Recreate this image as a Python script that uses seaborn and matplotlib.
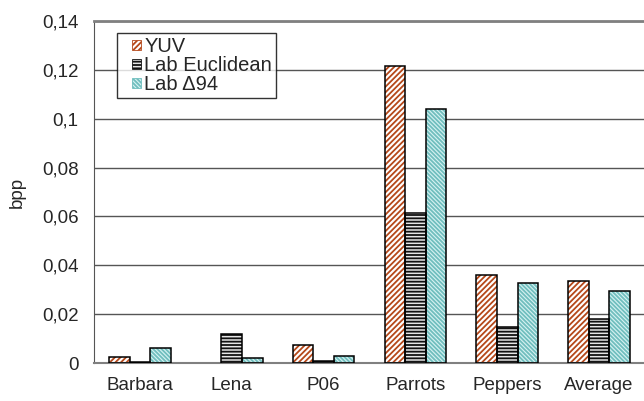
import matplotlib
matplotlib.use("Agg")
import matplotlib.pyplot as plt
import seaborn as sns
import numpy as np
import pandas as pd
from matplotlib.patches import Rectangle, Patch
from matplotlib.legend_handler import HandlerPatch

sns.set_style("white")
plt.rcParams['font.family'] = ['Liberation Sans', 'DejaVu Sans']
plt.rcParams['hatch.linewidth'] = 1.3

# data
images = ["Barbara", "Lena", "P06", "Parrots", "Peppers", "Average"]
methods = ["YUV", "Lab Euclidean", "Lab \u039494"]
yuv = [0.0025, 0.0, 0.0073, 0.1216, 0.0359, 0.0336]
lab_euclid = [0.0004, 0.0118, 0.0010, 0.0614, 0.0148, 0.0180]
lab_d94 = [0.0060, 0.0022, 0.0028, 0.1040, 0.0326, 0.0295]
yticks = [0, 0.02, 0.04, 0.06, 0.08, 0.1, 0.12, 0.14]
ytick_labels = ["0", "0,02", "0,04", "0,06", "0,08", "0,1", "0,12", "0,14"]

# fill, hatch, hatch colour per method
styles = {
    "YUV": ("white", "//////", "#b5481a"),
    "Lab Euclidean": ("#e6e6e6", "-----", "#111111"),
    "Lab \u039494": ("#d6f2f2", "\\\\\\\\\\\\\\\\", "#70bebe"),
}

df = pd.DataFrame({
    "image": images * 3,
    "method": np.repeat(methods, len(images)),
    "bpp": yuv + lab_euclid + lab_d94,
})

fig = plt.figure(figsize=(6.44, 4.01), dpi=100)
ax = fig.add_axes([94/644, 38/401, 551/644, 342/401])

sns.barplot(data=df, x="image", y="bpp", hue="method", hue_order=methods,
            order=images, width=0.67, errorbar=None, ax=ax, legend=False)

n = len(images)
for i, p in enumerate(list(ax.patches)[:3*n]):
    fc, h, hc = styles[methods[i // n]]
    p.set_facecolor(fc)
    p.set_hatch(h)
    p.set_edgecolor(hc)
    p.set_linewidth(0)
    if p.get_height() > 0:
        ax.add_patch(Rectangle(p.get_xy(), p.get_width(), p.get_height(),
                               fill=False, edgecolor="black", linewidth=1.1, zorder=3))

ax.set_ylim(0, 0.14)
ax.set_xlim(-0.5, n - 0.5)
ax.set_yticks(yticks)
ax.set_yticklabels(ytick_labels)
ax.set_xticks(np.arange(n))
ax.set_xticks(np.arange(n + 1) - 0.5, minor=True)
ax.tick_params(axis="x", which="major", length=0, labelsize=13.5, pad=10)
ax.tick_params(axis="x", which="minor", length=6, width=1.2, color="#707070", direction="out")
ax.tick_params(axis="y", length=6, width=1, color="#555555", direction="out", labelsize=13.5, pad=5)
ax.yaxis.grid(True, color="#555555", linewidth=1)
ax.set_axisbelow(True)
ax.set_xlabel("")
ax.set_ylabel("bpp", fontsize=13.5, labelpad=12)

ax.spines["right"].set_visible(False)
ax.spines["top"].set_color("#808080")
ax.spines["top"].set_linewidth(2)
ax.spines["left"].set_color("#555555")
ax.spines["bottom"].set_color("#808080")
ax.spines["bottom"].set_linewidth(1.5)


def small_square(legend, orig_handle, xdescent, ydescent, width, height, fontsize):
    side = 0.45 * fontsize
    return Rectangle((width - side - xdescent, (height - side) / 2 - ydescent), side, side)


handles = []
for m in methods:
    fc, h, hc = styles[m]
    handles.append(Patch(facecolor=fc, hatch=h, edgecolor=hc, linewidth=0.6))
leg = fig.legend(handles, methods, loc="upper left", bbox_to_anchor=(117/644, 1 - 33/401),
                 fontsize=14.5, frameon=True, fancybox=False, handlelength=1.0,
                 handleheight=0.7, handletextpad=0.15, labelspacing=0.0,
                 borderpad=0.2, borderaxespad=0,
                 handler_map={Patch: HandlerPatch(patch_func=small_square)})
leg.get_frame().set_edgecolor("black")
leg.get_frame().set_linewidth(1)

fig.savefig("out.png", dpi=100)
